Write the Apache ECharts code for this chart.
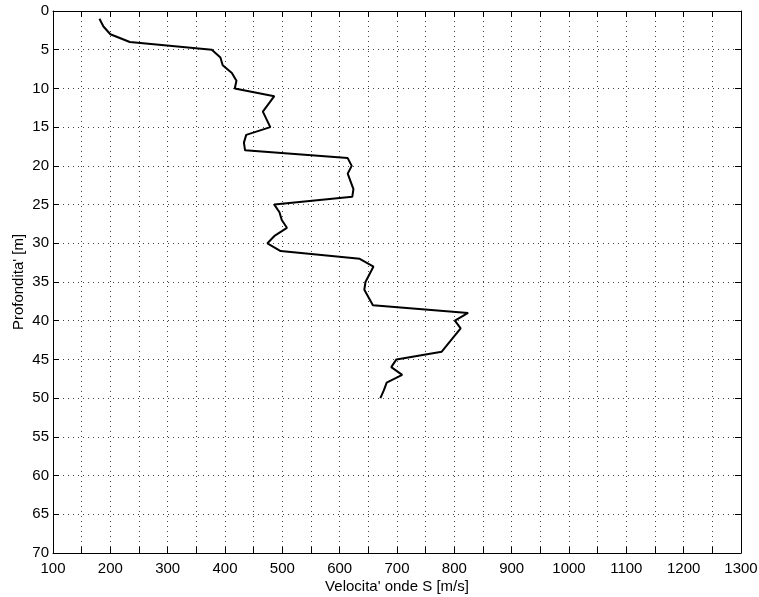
<!DOCTYPE html>
<html>
<head>
<meta charset="utf-8">
<script src="https://cdn.jsdelivr.net/npm/echarts@6/dist/echarts.min.js"></script>
<style>
html,body{margin:0;padding:0;background:#fff;}
#chart{width:759px;height:597px;}
</style>
</head>
<body>
<div id="chart"></div>
<script>
const depth = [1, 2, 3, 4, 5, 6, 7, 8, 9, 10, 11, 13, 15, 16, 17, 18, 19, 20, 21, 23, 24, 25, 26, 27, 28, 29, 30, 31, 32, 33, 35, 36, 38, 39, 40, 41, 44, 45, 46, 47, 48, 49, 50];
const velocity = [181, 188, 200, 234, 377, 392, 396, 412, 420, 417, 486, 466, 479, 437, 433, 435, 614, 621, 614, 624, 622, 486, 495, 499, 508, 487, 474, 497, 635, 659, 645, 643, 658, 824, 801, 811, 778, 699, 690, 709, 682, 677, 671];
const xTitle = "Velocita' onde S [m/s]";
const yTitle = "Profondita' [m]";

const FONT = '"Liberation Sans", Arial, sans-serif';
const FS = 15;
const chart = echarts.init(document.getElementById('chart'), null, {renderer: 'canvas'});
const gridLine = {show: true, lineStyle: {color: '#000', width: 1, type: [1, 4], opacity: 0.75}};
const axLine = {show: true, onZero: false, lineStyle: {color: '#000', width: 1}};
const tick = {show: true, inside: true, length: 6, lineStyle: {color: '#000', width: 1}};

chart.setOption({
  animation: false,
  backgroundColor: '#fff',
  grid: {left: 53, top: 11, width: 688, height: 542, containLabel: false, outerBoundsMode: 'none'},
  xAxis: [{
    type: 'value', min: 100, max: 1300, interval: 50, position: 'bottom',
    axisLine: axLine, axisTick: tick, splitLine: gridLine,
    axisLabel: {margin: 8, color: '#000', fontSize: FS, fontFamily: FONT,
      formatter: v => (v % 100 === 0 ? String(v) : '')},
    name: xTitle, nameLocation: 'middle', nameGap: 26, nameMoveOverlap: false,
    nameTextStyle: {color: '#000', fontSize: FS, fontFamily: FONT}
  }, {
    type: 'value', min: 100, max: 1300, interval: 50, position: 'top',
    axisLine: axLine, axisTick: tick, splitLine: {show: false}, axisLabel: {show: false}
  }],
  yAxis: [{
    type: 'value', min: 0, max: 70, interval: 5, inverse: true, position: 'left',
    axisLine: axLine, axisTick: tick, splitLine: gridLine,
    axisLabel: {margin: 4, color: '#000', fontSize: FS, fontFamily: FONT},
    name: yTitle, nameLocation: 'middle', nameGap: 27, nameMoveOverlap: false,
    nameTextStyle: {color: '#000', fontSize: FS, fontFamily: FONT}
  }, {
    type: 'value', min: 0, max: 70, interval: 5, inverse: true, position: 'right',
    axisLine: axLine, axisTick: tick, splitLine: {show: false}, axisLabel: {show: false}
  }],
  series: [{
    type: 'line',
    xAxisIndex: 0, yAxisIndex: 0,
    data: velocity.map((v, i) => [v, depth[i]]),
    showSymbol: false, symbol: 'none',
    lineStyle: {color: '#000', width: 2},
    smooth: false
  }]
});
</script>
</body>
</html>
